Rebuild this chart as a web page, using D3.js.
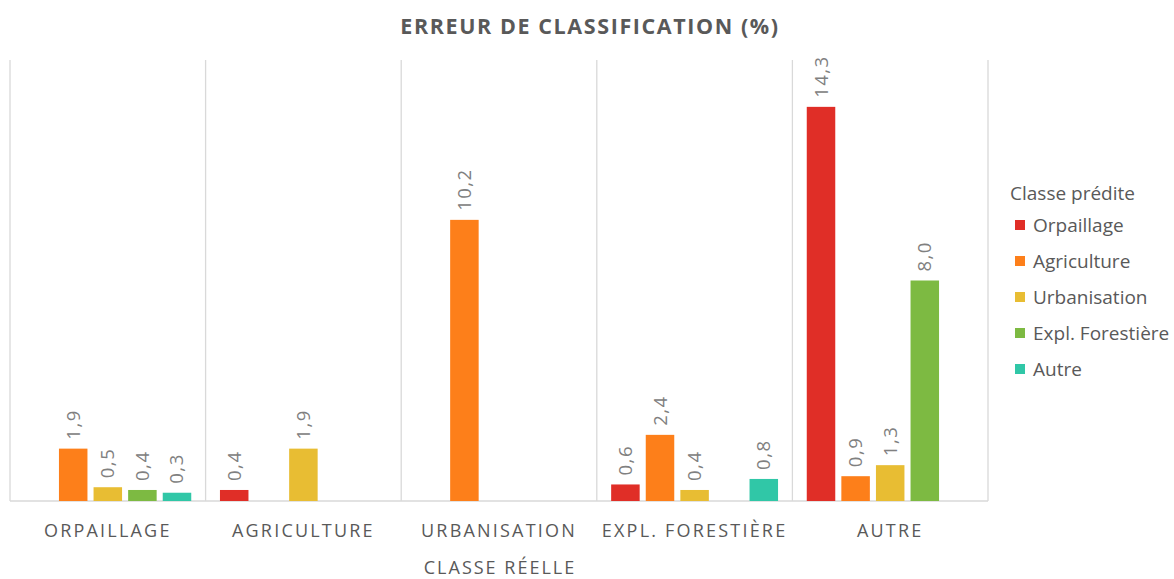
<!DOCTYPE html>
<html>
<head>
<meta charset="utf-8">
<script src="https://cdn.jsdelivr.net/npm/d3@7/dist/d3.min.js"></script>
<style>
  html, body { margin: 0; padding: 0; background: #fff; }
  svg { display: block; }
  text { font-family: "Open Sans", "DejaVu Sans", sans-serif; }
</style>
</head>
<body>
<svg id="chart" width="1174" height="579"></svg>
<script>
// Actual class (x groups) and predicted class (series)
const categories = ["ORPAILLAGE", "AGRICULTURE", "URBANISATION", "EXPL. FORESTIÈRE", "AUTRE"];
const seriesNames = ["Orpaillage", "Agriculture", "Urbanisation", "Expl. Forestière", "Autre"];
const seriesColors = ["#e02e27", "#fd7f1a", "#e8bd33", "#7dba42", "#30c7a7"];

// Classification error (%) per predicted class, one array per series, indexed by actual class
const orpaillageValues   = [null, 0.4, null, 0.6, 14.3];
const agricultureValues  = [1.9, null, 10.2, 2.4, 0.9];
const urbanisationValues = [0.5, 1.9, null, 0.4, 1.3];
const forestiereValues   = [0.4, null, null, null, 8.0];
const autreValues        = [0.3, null, null, 0.8, null];

const yTicks = [0, 16];

const seriesValues = [orpaillageValues, agricultureValues, urbanisationValues, forestiereValues, autreValues];

const svg = d3.select("#chart");
const plot = { left: 10, right: 988, top: 60, bottom: 501 };

const x0 = d3.scaleBand().domain(categories).range([plot.left, plot.right]).padding(0);
const x1 = d3.scaleBand().domain(seriesNames).range([0, x0.bandwidth()])
  .paddingInner(0.176).paddingOuter(0.415);
const y = d3.scaleLinear().domain([yTicks[0], yTicks[1]]).range([plot.bottom, plot.top]);
const color = d3.scaleOrdinal().domain(seriesNames).range(seriesColors);

// Vertical separators between groups
const bounds = categories.map(c => x0(c)).concat([plot.right]);
svg.append("g").selectAll("line").data(bounds).join("line")
  .attr("x1", d => d).attr("x2", d => d)
  .attr("y1", plot.top).attr("y2", plot.bottom)
  .attr("stroke", "#d9d9d9").attr("stroke-width", 1.3);

// Baseline
svg.append("line")
  .attr("x1", plot.left).attr("x2", plot.right)
  .attr("y1", y(0)).attr("y2", y(0))
  .attr("stroke", "#d9d9d9").attr("stroke-width", 1.3);

// Flattened records
const records = [];
categories.forEach((cat, ci) => {
  seriesNames.forEach((s, si) => {
    const v = seriesValues[si][ci];
    if (v !== null && v !== undefined) records.push({ cat, series: s, value: v });
  });
});

// Bars
svg.append("g").selectAll("rect").data(records).join("rect")
  .attr("x", d => x0(d.cat) + x1(d.series))
  .attr("y", d => y(d.value))
  .attr("width", x1.bandwidth())
  .attr("height", d => y(0) - y(d.value))
  .attr("fill", d => color(d.series));

// Value labels, rotated
const fmt = v => d3.format(".1f")(v).replace(".", ",");
svg.append("g").selectAll("text").data(records).join("text")
  .attr("transform", d => {
    const cx = x0(d.cat) + x1(d.series) + x1.bandwidth() / 2;
    return `translate(${cx + 6.5},${y(d.value) - 9}) rotate(-90)`;
  })
  .attr("text-anchor", "start")
  .attr("font-size", 18.5)
  .attr("letter-spacing", 1.5)
  .attr("fill", "#808080")
  .text(d => fmt(d.value));

// Category axis
const xAxis = svg.append("g")
  .attr("transform", `translate(0,${plot.bottom})`)
  .call(d3.axisBottom(x0).tickSize(0).tickPadding(23));
xAxis.select(".domain").remove();
xAxis.selectAll("text")
  .attr("font-family", "'Open Sans', sans-serif")
  .attr("font-size", 18)
  .attr("letter-spacing", 2.2)
  .attr("fill", "#595959");

// Axis title
svg.append("text")
  .attr("x", (plot.left + plot.right) / 2 + 1)
  .attr("y", 574)
  .attr("text-anchor", "middle")
  .attr("font-size", 18)
  .attr("letter-spacing", 2.0)
  .attr("fill", "#595959")
  .text("CLASSE RÉELLE");

// Chart title
svg.append("text")
  .attr("x", 590)
  .attr("y", 34)
  .attr("text-anchor", "middle")
  .attr("font-size", 21.5)
  .attr("font-weight", "bold")
  .attr("letter-spacing", 1.6)
  .attr("fill", "#595959")
  .text("ERREUR DE CLASSIFICATION (%)");

// Legend
const legend = svg.append("g").attr("transform", "translate(1010,0)");
legend.append("text")
  .attr("x", 0).attr("y", 200)
  .attr("font-family", "Lato, sans-serif")
  .attr("font-size", 19)
  .attr("fill", "#595959")
  .text("Classe prédite");
const items = legend.selectAll("g.item").data(seriesNames).join("g")
  .attr("class", "item")
  .attr("transform", (d, i) => `translate(0,${225 + i * 36})`);
items.append("rect")
  .attr("x", 5).attr("y", -5).attr("width", 10).attr("height", 10)
  .attr("fill", d => color(d));
items.append("text")
  .attr("x", 23).attr("y", 6.5)
  .attr("font-family", "Lato, sans-serif")
  .attr("font-size", 19)
  .attr("fill", "#595959")
  .text(d => d);
</script>
</body>
</html>
